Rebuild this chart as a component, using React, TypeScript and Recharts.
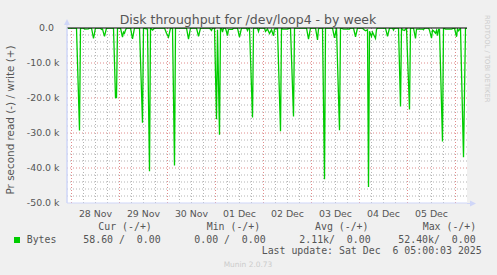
import React from 'react';
import { LineChart, Line, XAxis, YAxis, CartesianGrid, ReferenceLine } from 'recharts';

// hours since 28 Nov 00:00
const hours = [
  -2, 2.5, 4, 4.5, 6, 6.5, 8.5, 9, 10, 11, 12, 14.5, 15, 15.5, 16.5, 17.5,
  21, 22, 22.5, 23, 24.5, 25.5, 26, 26.5, 27, 27.5, 29.5, 30.5, 31.5,
  34, 35.5, 36, 38, 39, 39.5, 40.5, 41, 41.5, 46.5, 47.5, 48.5, 49.5,
  50.5, 51.5, 52, 57.5, 58.5, 59.5, 62.5, 63.5, 64.5, 69, 70, 70.5,
  71.5, 72.5, 73, 74, 74.5, 75, 75.5, 76, 77, 78, 78.5, 80.5, 81,
  83, 84, 85, 87.5, 88, 88.5, 89, 90.5, 91, 93, 93.5, 94,
  96.5, 97, 98, 99, 100, 101, 101.5, 103, 104.5, 105, 105.5, 108, 109.5, 111, 111.5,
  117.5, 118.5, 119.5, 122, 123, 123.5, 124, 125.5, 126.5, 127,
  130.5, 131.5, 132.5, 134, 134.5, 136, 139, 139.5, 141, 142, 143,
  145.5, 146, 147, 148, 148.5, 149, 150, 150.5, 151, 152, 152.5, 153,
  157, 158, 159, 160.5, 161, 161.5, 163.5, 164.5, 165, 165.5, 166.5, 167.5, 169, 169.5,
  171, 172, 172.5, 175.5, 176, 176.5, 178.5, 179, 180, 180.5, 181, 182, 182.5, 183, 183.5,
  184, 185.5, 186, 187, 190, 191.5, 192.5, 193, 193.5, 194.5, 196, 197, 197.75,
];
// bytes read per second (drawn negative)
const readBytes = [
  0, 0, 29300, 0, 0, 300, 250, 0, 0, 3000, 0, 0, 400, 300, 2400, 0,
  0, 19900, 19900, 0, 0, 2600, 1200, 1500, 600, 0, 0, 3100, 0,
  0, 27100, 0, 300, 40900, 0, 600, 400, 0, 0, 1500, 2600, 0,
  0, 39300, 0, 0, 3200, 0, 0, 2400, 0, 0, 700, 0,
  0, 26100, 500, 30500, 0, 0, 1200, 0, 0, 2200, 400, 400, 0,
  0, 2600, 0, 0, 700, 0, 0, 25600, 0, 0, 1000, 0,
  0, 1000, 300, 1600, 500, 2200, 300, 200, 29500, 0, 300, 300, 0, 25300, 0,
  0, 3200, 0, 0, 3400, 300, 0, 0, 43200, 0,
  0, 2800, 0, 29200, 0, 300, 300, 0, 0, 2500, 0,
  0, 400, 800, 500, 45400, 900, 2400, 1200, 1800, 3000, 400, 0,
  0, 2400, 0, 0, 600, 0, 0, 22400, 0, 500, 700, 0, 23300, 0,
  0, 3000, 300, 300, 500, 0, 0, 600, 2900, 600, 800, 1500, 700, 2200, 400,
  400, 32400, 0, 300, 300, 0, 2500, 300, 800, 0, 36900, 59, 59,
];

const dayTickHours = [12, 36, 60, 84, 108, 132, 156, 180];
const dayLabels = ['28 Nov', '29 Nov', '30 Nov', '01 Dec', '02 Dec', '03 Dec', '04 Dec', '05 Dec'];
const yTicks = [-50000, -40000, -30000, -20000, -10000, 0];

const legendHeaders = ['Cur (-/+)', 'Min (-/+)', 'Avg (-/+)', 'Max (-/+)'];
const legendValues = ['58.60 /  0.00', '0.00 /  0.00', '2.11k/  0.00', '52.40k/  0.00'];
const seriesName = 'Bytes';
const title = 'Disk throughput for /dev/loop4 - by week';
const yLabel = 'Pr second read (-) / write (+)';
const lastUpdate = 'Last update: Sat Dec  6 05:00:03 2025';
const footer = 'Munin 2.0.73';
const sideText = 'RRDTOOL / TOBI OETIKER';

const data = hours.map((h, i) => ({ h, read: -readBytes[i] }));

const majorX: number[] = [];
const minorX: number[] = [];
for (let h = 0; h <= 197; h += 6) (h % 24 === 0 ? majorX : minorX).push(h);
const majorY: number[] = [];
const minorY: number[] = [];
for (let v = -48000; v < 0; v += 2000) (v % 10000 === 0 ? majorY : minorY).push(v);

const FONT = 'DejaVu Sans, sans-serif';
const MONO = 'DejaVu Sans Mono, monospace';
const TXT = '#555555';
const AXIS = '#CFD6F8';

const XTick = (p: any) => {
  const idx = dayTickHours.indexOf(p.payload.value);
  return (
    <text x={p.x} y={p.y} dy={13.6} textAnchor="middle" fontFamily={FONT} fontSize={9.4} fill={TXT}>
      {dayLabels[idx]}
    </text>
  );
};

const YTick = (p: any) => {
  const v = p.payload.value;
  const label = v === 0 ? '0.0' : `${(v / 1000).toFixed(1)} k`;
  return (
    <text x={59.5 - (v === 0 ? 5.5 : 0)} y={p.y} dy={3.4} textAnchor="end" fontFamily={FONT} fontSize={9.4} fill={TXT}>
      {label}
    </text>
  );
};

const legendX = [98.3, 206.7, 315, 422.7];
const valueX = [83.3, 194.3, 299.3, 398.3];

export default function App() {
  return (
    <div style={{ position: 'absolute', left: 0, top: 0, width: 497, height: 275, background: '#f0f0f0' }}>
      <LineChart width={497} height={275} data={data} margin={{ top: 28, right: 30, bottom: 52, left: 0 }}>
        <CartesianGrid fill="#ffffff" horizontal={false} vertical={false} stroke="none" />
        <CartesianGrid
          horizontalValues={minorY}
          verticalValues={minorX}
          stroke="#b4b4b4"
          strokeDasharray="1 2"
        />
        <CartesianGrid
          horizontalValues={majorY}
          verticalValues={majorX}
          stroke="#e08c8c"
          strokeDasharray="1 2"
        />
        <XAxis
          dataKey="h"
          type="number"
          domain={[-2.25, 197.75]}
          allowDataOverflow
          ticks={dayTickHours}
          tick={<XTick />}
          tickLine={false}
          tickSize={0}
          tickMargin={0}
          axisLine={{ stroke: AXIS }}
          height={20}
          interval={0}
        />
        <YAxis
          type="number"
          domain={[-50000, 0]}
          allowDataOverflow
          ticks={yTicks}
          tick={<YTick />}
          tickLine={false}
          axisLine={{ stroke: AXIS }}
          width={67}
          interval={0}
        />
        <Line
          type="linear"
          dataKey="read"
          stroke="#00cc00"
          strokeWidth={1.3}
          dot={false}
          isAnimationActive={false}
        />
        <ReferenceLine y={0} stroke="#000000" strokeWidth={1} />
      </LineChart>
      <svg
        width={497}
        height={275}
        style={{ position: 'absolute', left: 0, top: 0, pointerEvents: 'none' }}
      >
        <text x={248} y={23.5} textAnchor="middle" fontFamily={FONT} fontSize={12.5} fill={TXT}>
          {title}
        </text>
        <text
          x={13.6}
          y={120}
          textAnchor="middle"
          fontFamily={FONT}
          fontSize={10.4}
          fill={TXT}
          transform="rotate(-90, 13.6, 120)"
        >
          {yLabel}
        </text>
        <text
          x={485}
          y={15}
          fontFamily={FONT}
          fontSize={6.8}
          fill="#cccccc"
          transform="rotate(90, 485, 15)"
        >
          {sideText}
        </text>
        <line x1={67} y1={203} x2={67} y2={22} stroke={AXIS} />
        <polygon points="64,25 70,25 67,19" fill={AXIS} />
        <line x1={467} y1={203.5} x2={470} y2={203.5} stroke={AXIS} />
        <polygon points="470,200.5 470,206.5 476,203.5" fill={AXIS} />
        {legendHeaders.map((t, i) => (
          <text key={t} x={legendX[i]} y={230} fontFamily={MONO} fontSize={9.9} fill={TXT} style={{ whiteSpace: 'pre' }}>
            {t}
          </text>
        ))}
        <rect x={14} y={237} width={6} height={6} fill="#00cc00" />
        <text x={26.7} y={242.7} fontFamily={MONO} fontSize={9.9} fill={TXT}>
          {seriesName}
        </text>
        {legendValues.map((t, i) => (
          <text key={i} x={valueX[i]} y={242.7} fontFamily={MONO} fontSize={9.9} fill={TXT} style={{ whiteSpace: 'pre' }}>
            {t}
          </text>
        ))}
        <text x={261.7} y={254.3} fontFamily={MONO} fontSize={9.9} fill={TXT} style={{ whiteSpace: 'pre' }}>
          {lastUpdate}
        </text>
        <text x={248} y={266.5} textAnchor="middle" fontFamily={FONT} fontSize={7.45} fill="#cccccc">
          {footer}
        </text>
      </svg>
    </div>
  );
}
